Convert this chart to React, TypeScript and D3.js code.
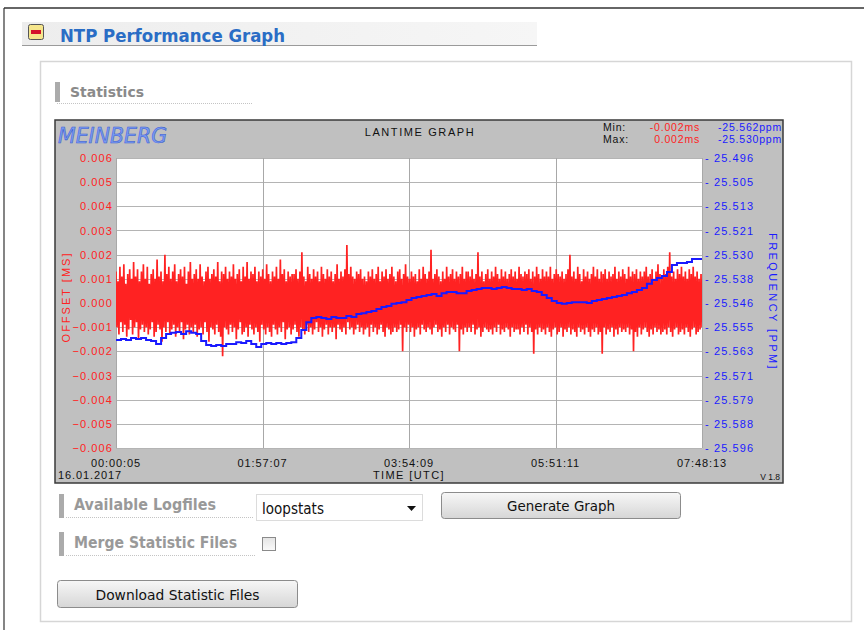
import React from "react";
import * as d3 from "d3";

// ---- data ----
// time axis (seconds since 00:00:00 UTC)
const timeStart = 5; // 00:00:05
const timeEnd = 28093; // 07:48:13
const timeTicks = [5, 7027, 14049, 21071, 28093];

// offset ticks (ms)
const offsetTicks = [-0.006, -0.005, -0.004, -0.003, -0.002, -0.001, 0, 0.001, 0.002, 0.003, 0.004, 0.005, 0.006];
// frequency tick labels (ppm), bottom -> top
const freqTickLabels = ["-25.596", "-25.588", "-25.579", "-25.571", "-25.563", "-25.555", "-25.546", "-25.538", "-25.530", "-25.521", "-25.513", "-25.505", "-25.496"];
const freqMin = -25.596;
const freqMax = -25.496;

// NTP offset samples (microseconds), evenly spaced across the time range
const offsetUs = [
  1.3, -1.0, 0.9, -1.3, 1.5, -0.8, 1.1, -1.2, 1.6, -0.9, 0.8, -1.4, 1.2, -1.1, 1.4, -0.7, 1.0, -1.3, 1.7, -1.0,
  1.1, -0.8, 1.4, -1.5, 0.9, -1.1, 1.3, -0.9, 1.6, -1.2, 1.0, -1.0, 1.5, -1.3, 0.8, -1.1, 1.2, -0.8, 1.4, -1.4,
  1.0, -1.2, 1.8, -0.9, 1.1, -1.1, 1.3, -1.6, 0.9, -1.0, 2.0, -1.2, 1.2, -0.8, 1.5, -1.3, 1.0, -1.1, 1.3, -0.9,
  1.6, -1.4, 0.9, -1.0, 1.2, -1.2, 1.4, -0.8, 1.1, -1.5, 1.5, -1.1, 0.8, -0.9, 1.3, -1.3, 1.7, -1.0, 1.0, -1.2,
  1.2, -0.9, 1.4, -1.4, 1.0, -1.1, 1.6, -1.0, 1.1, -1.3, 0.9, -0.8, 1.3, -1.2, 1.5, -1.6, 1.0, -1.0, 1.2, -1.1,
  1.4, -1.3, 1.1, -0.9, 1.7, -1.2, 0.9, -1.4, 1.3, -2.2, 1.2, -1.0, 1.5, -1.1, 1.0, -1.3, 1.3, -0.9, 1.1, -1.2,
  1.6, -1.0, 1.0, -1.5, 1.2, -1.1, 1.4, -0.8, 0.9, -1.3, 1.5, -1.2, 1.1, -1.0, 1.7, -1.4, 1.0, -0.9, 1.3, -1.1,
  1.2, -1.3, 1.5, -1.0, 0.9, -1.2, 1.3, -1.6, 1.1, -0.9, 1.4, -1.1, 1.0, -1.3, 1.6, -1.0, 1.2, -1.2, 0.9, -1.4,
  1.3, -0.9, 1.1, -1.1, 1.5, -1.3, 1.0, -1.0, 1.8, -1.2, 1.2, -0.8, 1.4, -1.5, 0.9, -1.1, 1.3, -1.0, 1.1, -1.3,
  1.2, -1.1, 1.2, -0.9, 1.4, -1.2, 1.0, -1.4, 1.3, -1.0, 2.1, -1.1, 1.1, -1.3, 0.9, -0.9, 1.5, -1.2, 1.2, -1.0,
  1.0, -1.3, 1.4, -1.1, 1.1, -0.8, 1.3, -1.2, 0.9, -1.0, 1.5, -1.4, 1.2, -1.1, 1.0, -0.9, 1.4, -1.3, 1.1, -1.0,
  1.3, -1.2, 0.9, -1.0, 1.2, -1.5, 1.6, -0.9, 1.0, -1.1, 1.3, -1.2, 1.1, -1.0, 1.4, -1.3, 2.4, -0.8, 1.2, -1.1,
  1.5, -1.0, 1.1, -1.3, 1.0, -1.1, 1.3, -0.9, 1.2, -1.2, 1.4, -1.0, 1.0, -1.3, 1.1, -1.1, 0.9, -1.0, 1.3, -1.4,
  1.1, -0.9, 1.4, -1.2, 1.0, -1.0, 1.2, -1.3, 1.5, -1.1, 0.9, -0.9, 1.3, -1.2, 1.1, -1.4, 1.4, -1.0, 1.0, -1.1,
  1.2, -1.3, 1.5, -1.2, 1.1, -1.0, 0.9, -1.2, 1.3, -1.1, 1.4, -0.9, 1.0, -2.0, 1.2, -1.0, 1.6, -1.2, 1.1, -0.9,
  1.0, -1.2, 1.3, -1.0, 1.1, -1.4, 1.2, -1.1, 0.9, -1.0, 1.4, -1.3, 1.0, -0.9, 1.5, -1.1, 1.2, -1.2, 1.0, -1.0,
  1.3, -1.1, 2.2, -1.3, 1.0, -1.0, 1.2, -0.9, 1.4, -1.2, 1.1, -1.1, 0.9, -1.4, 1.3, -1.0, 1.0, -1.2, 1.5, -0.9,
  1.1, -1.3, 1.2, -1.0, 1.4, -1.1, 1.0, -1.2, 1.3, -0.9, 1.1, -2.0, 1.2, -1.1, 1.5, -1.3, 1.0, -1.0, 1.3, -1.2,
  1.3, -1.0, 1.1, -1.2, 1.4, -0.9, 1.0, -1.3, 1.2, -1.1, 2.1, -1.0, 1.1, -1.4, 1.3, -1.2, 0.9, -1.0, 1.2, -1.1,
  1.4, -1.2, 1.0, -1.1, 1.3, -1.3, 1.1, -1.0, 1.5, -1.2, 1.2, -0.9, 1.0, -1.3, 1.4, -1.1, 1.1, -1.2, 1.3, -1.0,
  1.0, -1.1, 1.2, -1.4, 1.4, -1.0, 1.1, -1.2, 1.3, -1.1, 1.0, -1.1, 1.5, -1.3, 1.2, -1.0, 1.1, -1.2, 1.3, -0.9,
  1.2, -1.3, 1.4, -1.0, 1.0, -1.2, 1.3, -2.1, 1.1, -1.1, 1.5, -1.3, 1.2, -1.0, 1.0, -1.2, 1.4, -1.1, 1.1, -1.3,
  1.3, -1.0, 1.1, -1.2, 1.5, -1.4, 1.0, -1.1, 1.2, -1.0, 1.4, -1.3, 1.2, -1.2, 1.1, -1.0, 1.3, -1.4, 1.0, -1.1,
  1.2, -1.2, 1.4, -1.0, 2.0, -1.3, 1.1, -1.1, 1.3, -1.2, 1.0, -1.4, 1.5, -1.0, 1.2, -1.2, 0.9, -1.1, 1.4, -1.3,
  1.1, -1.0, 1.3, -1.2, 1.0, -1.4, 1.2, -1.1, 1.5, -1.2, 1.1, -1.0, 1.4, -1.3, 1.0, -1.2, 1.3, -2.1, 1.2, -1.0,
  1.4, -1.3, 1.0, -1.1, 1.3, -1.2, 1.1, -1.0, 1.2, -1.4, 1.5, -1.1, 1.0, -1.3, 1.3, -1.0, 1.1, -1.2, 1.4, -1.1,
  1.2, -1.2, 1.0, -1.0, 1.5, -1.3, 1.1, -1.1, 1.3, -2.0, 1.2, -1.2, 1.4, -1.4, 1.0, -1.0, 1.3, -1.3, 1.1, -1.1,
  1.3, -1.0, 1.5, -1.2, 1.1, -1.4, 1.2, -1.1, 1.4, -1.3, 1.0, -1.0, 1.3, -1.2, 1.6, -1.1, 1.2, -1.3, 1.0, -1.2,
  1.4, -1.1, 1.2, -1.3, 1.5, -1.0, 2.1, -1.2, 1.1, -1.4, 1.3, -1.1, 1.0, -1.0, 1.4, -1.3, 1.2, -1.2, 1.5, -1.1,
  1.1, -1.3, 1.3, -1.0, 1.0, -1.2, 1.4, -1.4, 1.2, -1.1, 1.5, -1.0, 1.1, -1.3, 1.3, -1.2, 1.0, -1.1, 1.2, -1.0,
];

// frequency samples (ppm), evenly spaced across the time range
const freqPpm = [
  -25.5588, -25.5584, -25.5588, -25.5581, -25.5584, -25.5581, -25.5588, -25.5591, -25.5601, -25.5581,
  -25.5567, -25.5563, -25.5560, -25.5567, -25.5557, -25.5563, -25.5567, -25.5591, -25.5605, -25.5608,
  -25.5605, -25.5608, -25.5601, -25.5601, -25.5595, -25.5598, -25.5591, -25.5601, -25.5612, -25.5601,
  -25.5598, -25.5601, -25.5598, -25.5601, -25.5598, -25.5595, -25.5581, -25.5553, -25.5526, -25.5512,
  -25.5508, -25.5512, -25.5515, -25.5508, -25.5512, -25.5512, -25.5505, -25.5508, -25.5498, -25.5495,
  -25.5491, -25.5488, -25.5481, -25.5474, -25.5470, -25.5463, -25.5460, -25.5457, -25.5450, -25.5443,
  -25.5439, -25.5436, -25.5432, -25.5429, -25.5436, -25.5426, -25.5422, -25.5422, -25.5426, -25.5426,
  -25.5419, -25.5415, -25.5412, -25.5408, -25.5408, -25.5412, -25.5408, -25.5405, -25.5408, -25.5412,
  -25.5412, -25.5415, -25.5412, -25.5419, -25.5422, -25.5432, -25.5443, -25.5453, -25.5460, -25.5463,
  -25.5460, -25.5457, -25.5457, -25.5457, -25.5460, -25.5453, -25.5450, -25.5446, -25.5443, -25.5439,
  -25.5436, -25.5432, -25.5426, -25.5422, -25.5415, -25.5408, -25.5394, -25.5381, -25.5374, -25.5367,
  -25.5353, -25.5329, -25.5322, -25.5322, -25.5319, -25.5308, -25.5308, -25.5312,
];

const minOffsetLabel = "-0.002ms";
const maxOffsetLabel = "0.002ms";
const minFreqLabel = "-25.562ppm";
const maxFreqLabel = "-25.530ppm";

// ---- layout ----
const W = 864;
const H = 630;
const plot = { left: 116, right: 702, top: 158, bottom: 448 };
const box = { left: 55, right: 783, top: 120, bottom: 483 };

const RED = "#ff2222";
const BLUE = "#1a1aff";
const GRAPH_FONT = "'Liberation Sans', Arial, sans-serif";
const UI_FONT = "'DejaVu Sans', Verdana, sans-serif";

function fmtTime(s: number) {
  const h = Math.floor(s / 3600);
  const m = Math.floor((s % 3600) / 60);
  const sec = s % 60;
  const p = (n: number) => String(n).padStart(2, "0");
  return `${p(h)}:${p(m)}:${p(sec)}`;
}

function fmtSigned(label: string) {
  return label.startsWith("-") ? "- " + label.slice(1) : label;
}

export default function App() {
  const x = d3.scaleLinear().domain([timeStart, timeEnd]).range([plot.left, plot.right]);
  const yL = d3.scaleLinear().domain([-0.006, 0.006]).range([plot.bottom, plot.top]);
  const yR = d3.scaleLinear().domain([freqMin, freqMax]).range([plot.bottom, plot.top]);
  const offsetStep = (timeEnd - timeStart) / (offsetUs.length - 1);
  const freqStep = (timeEnd - timeStart) / (freqPpm.length - 1);

  const offsetLine = d3
    .line<number>()
    .x((_, i) => x(timeStart + i * offsetStep))
    .y((d) => yL(d / 1000));
  const freqLine = d3
    .line<number>()
    .x((_, i) => x(timeStart + i * freqStep))
    .y((d) => yR(d))
    .curve(d3.curveStepAfter);

  const fmt3 = d3.format(".3f");
  const freqTickPos = freqTickLabels.map((_, i) => freqMin + (i * (freqMax - freqMin)) / (freqTickLabels.length - 1));

  return (
    <svg
      width={W}
      height={H}
      viewBox={`0 0 ${W} ${H}`}
      style={{ position: "absolute", left: 0, top: 0, background: "#fff" }}
    >
      <defs>
        <linearGradient id="btn" x1="0" y1="0" x2="0" y2="1">
          <stop offset="0" stopColor="#f7f7f7" />
          <stop offset="1" stopColor="#d6d6d6" />
        </linearGradient>
        <linearGradient id="hdr" x1="0" y1="0" x2="1" y2="0">
          <stop offset="0" stopColor="#ededed" />
          <stop offset="1" stopColor="#f6f6f6" />
        </linearGradient>
        <linearGradient id="chk" x1="0" y1="0" x2="0" y2="1">
          <stop offset="0" stopColor="#e4e4e4" />
          <stop offset="1" stopColor="#fafafa" />
        </linearGradient>
        <clipPath id="plotClip">
          <rect x={plot.left} y={plot.top - 2} width={plot.right - plot.left} height={plot.bottom - plot.top + 4} />
        </clipPath>
      </defs>

      {/* outer page frame */}
      <line x1={4} y1={8} x2={W} y2={8} stroke="#333" strokeWidth={1.5} />
      <line x1={4} y1={8} x2={4} y2={H} stroke="#333" strokeWidth={1.2} />

      {/* section header */}
      <rect x={22} y={22} width={515} height={23} fill="url(#hdr)" />
      <line x1={22} y1={45.5} x2={537} y2={45.5} stroke="#9a9a9a" strokeWidth={1} />
      <rect x={28.5} y={24.5} width={15} height={15} rx={2} fill="#f6e68c" stroke="#555" strokeWidth={1} />
      <rect x={31} y={30} width={10} height={4} fill="#d3112b" />
      <text x={60} y={42} fontFamily={UI_FONT} fontWeight="bold" fontSize={17} fill="#2a6dc5" textLength={225} lengthAdjust="spacingAndGlyphs">
        NTP Performance Graph
      </text>

      {/* inner panel */}
      <rect x={40.5} y={61.5} width={811} height={560} fill="#fff" stroke="#d6d6d6" strokeWidth={1.5} />

      {/* Statistics label */}
      <rect x={55} y={82} width={5} height={20} fill="#ababab" />
      <text x={70} y={97} fontFamily={UI_FONT} fontWeight="bold" fontSize={14} fill="#8a8a8a" textLength={74} lengthAdjust="spacingAndGlyphs">
        Statistics
      </text>
      <line x1={57} y1={103.5} x2={252} y2={103.5} stroke="#c4c4c4" strokeDasharray="1,1" />

      {/* graph image */}
      <rect x={box.left} y={box.top} width={box.right - box.left} height={box.bottom - box.top} fill="#c0c0c0" stroke="#3a3a3a" strokeWidth={1.5} />

      {/* logo */}
      <text x={58} y={143} fontFamily={UI_FONT} fontStyle="italic" fontSize={22} fill="#7c9df3" stroke="#3a5bd0" strokeWidth={0.6} textLength={109} lengthAdjust="spacingAndGlyphs">
        MEINBERG
      </text>
      <text x={420} y={136} textAnchor="middle" fontFamily={GRAPH_FONT} fontSize={11} fill="#111" letterSpacing={1.6}>
        LANTIME GRAPH
      </text>
      <text x={603} y={131} fontFamily={GRAPH_FONT} fontSize={10.5} fill="#111" letterSpacing={0.8}>Min:</text>
      <text x={603} y={143} fontFamily={GRAPH_FONT} fontSize={10.5} fill="#111" letterSpacing={0.8}>Max:</text>
      <text x={700} y={131} textAnchor="end" fontFamily={GRAPH_FONT} fontSize={10.5} fill={RED} letterSpacing={0.8}>{minOffsetLabel}</text>
      <text x={700} y={143} textAnchor="end" fontFamily={GRAPH_FONT} fontSize={10.5} fill={RED} letterSpacing={0.8}>{maxOffsetLabel}</text>
      <text x={782} y={131} textAnchor="end" fontFamily={GRAPH_FONT} fontSize={10.5} fill={BLUE} letterSpacing={0.8}>{minFreqLabel}</text>
      <text x={782} y={143} textAnchor="end" fontFamily={GRAPH_FONT} fontSize={10.5} fill={BLUE} letterSpacing={0.8}>{maxFreqLabel}</text>

      {/* plot area */}
      <rect x={plot.left} y={plot.top} width={plot.right - plot.left} height={plot.bottom - plot.top} fill="#fff" />
      {offsetTicks.map((t) => (
        <line key={"h" + t} x1={plot.left} x2={plot.right} y1={Math.round(yL(t)) + 0.5} y2={Math.round(yL(t)) + 0.5} stroke="#b4b4b4" strokeWidth={1} />
      ))}
      {timeTicks.map((t) => (
        <line key={"v" + t} x1={Math.round(x(t)) + 0.5} x2={Math.round(x(t)) + 0.5} y1={plot.top} y2={plot.bottom} stroke="#a8a8a8" strokeWidth={1} />
      ))}

      <g clipPath="url(#plotClip)">
        <path d={offsetLine(offsetUs) || ""} fill="none" stroke={RED} strokeWidth={1.7} strokeLinejoin="bevel" />
        <path d={freqLine(freqPpm) || ""} fill="none" stroke={BLUE} strokeWidth={2} />
      </g>

      {/* left axis */}
      {offsetTicks.map((t) => (
        <text key={"l" + t} x={113} y={yL(t) + 4} textAnchor="end" fontFamily={GRAPH_FONT} fontSize={11} fill={RED} letterSpacing={1.1}>
          {fmtSigned(fmt3(t === 0 ? 0 : t))}
        </text>
      ))}
      <text
        transform={`translate(70, 297) rotate(-90)`}
        textAnchor="middle"
        fontFamily={GRAPH_FONT}
        fontSize={11}
        fill={RED}
        letterSpacing={2}
      >
        OFFSET [MS]
      </text>

      {/* right axis */}
      {freqTickLabels.map((lab, i) => (
        <text key={"r" + i} x={705} y={yR(freqTickPos[i]) + 4} fontFamily={GRAPH_FONT} fontSize={11} fill={BLUE} letterSpacing={1.1}>
          {fmtSigned(lab)}
        </text>
      ))}
      <text
        transform={`translate(769, 302) rotate(90)`}
        textAnchor="middle"
        fontFamily={GRAPH_FONT}
        fontSize={11}
        fill={BLUE}
        letterSpacing={2.4}
      >
        FREQUENCY [PPM]
      </text>

      {/* bottom axis */}
      {timeTicks.map((t) => (
        <text key={"t" + t} x={x(t)} y={467} textAnchor="middle" fontFamily={GRAPH_FONT} fontSize={11} fill="#111" letterSpacing={0.9}>
          {fmtTime(t)}
        </text>
      ))}
      <text x={58} y={479} fontFamily={GRAPH_FONT} fontSize={11} fill="#111" letterSpacing={0.9}>16.01.2017</text>
      <text x={409} y={479} textAnchor="middle" fontFamily={GRAPH_FONT} fontSize={11} fill="#111" letterSpacing={1.4}>TIME [UTC]</text>
      <text x={780} y={480} textAnchor="end" fontFamily={GRAPH_FONT} fontSize={8.5} fill="#111">V 1.8</text>

      {/* form controls */}
      <rect x={59} y={494} width={5} height={24} fill="#ababab" />
      <text x={74} y={510} fontFamily={UI_FONT} fontWeight="bold" fontSize={15} fill="#999" textLength={142} lengthAdjust="spacingAndGlyphs">
        Available Logfiles
      </text>
      <line x1={66} y1={517.5} x2={254} y2={517.5} stroke="#c4c4c4" strokeDasharray="1,1" />
      <rect x={256.5} y={494.5} width={166} height={26} fill="#fff" stroke="#dcdcdc" />
      <text x={262} y={514} fontFamily={UI_FONT} fontSize={15} fill="#111" textLength={62} lengthAdjust="spacingAndGlyphs">loopstats</text>
      <path d="M407,506 L416,506 L411.5,511 Z" fill="#111" />

      <rect x={441.5} y={492.5} width={239} height={26} rx={3} fill="url(#btn)" stroke="#8c8c8c" />
      <text x={561} y={511} textAnchor="middle" fontFamily={UI_FONT} fontSize={14} fill="#111" textLength={108} lengthAdjust="spacingAndGlyphs">Generate Graph</text>

      <rect x={59} y={532} width={5} height={24} fill="#ababab" />
      <text x={74} y={548} fontFamily={UI_FONT} fontWeight="bold" fontSize={15} fill="#999" textLength={163} lengthAdjust="spacingAndGlyphs">
        Merge Statistic Files
      </text>
      <line x1={66} y1={555.5} x2={256} y2={555.5} stroke="#c4c4c4" strokeDasharray="1,1" />
      <rect x={262.5} y={537.5} width={13} height={13} fill="url(#chk)" stroke="#8a8a8a" />

      <rect x={57.5} y={580.5} width={240} height={27} rx={3} fill="url(#btn)" stroke="#8c8c8c" />
      <text x={177.5} y={600} textAnchor="middle" fontFamily={UI_FONT} fontSize={14} fill="#111" textLength={164} lengthAdjust="spacingAndGlyphs">Download Statistic Files</text>
    </svg>
  );
}
